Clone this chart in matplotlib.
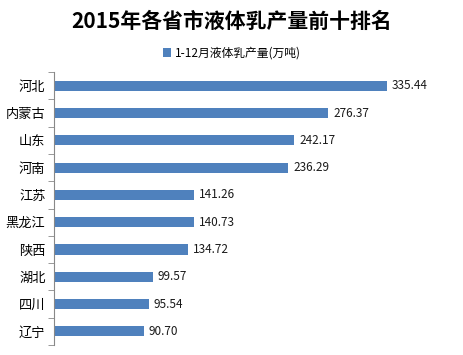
import matplotlib.pyplot as plt
import numpy as np

plt.rcParams['font.family'] = ['Noto Sans CJK SC', 'DejaVu Sans']

provinces = ['河北', '内蒙古', '山东', '河南', '江苏', '黑龙江', '陕西', '湖北', '四川', '辽宁']
output = [335.44, 276.37, 242.17, 236.29, 141.26, 140.73, 134.72, 99.57, 95.54, 90.70]
series_name = '1-12月液体乳产量(万吨)'

fig = plt.figure(figsize=(4.64, 3.55), dpi=100)
ax = fig.add_axes([0.116, 0.028, 0.856, 0.769])

y = np.arange(len(provinces))
bars = ax.barh(y, output, height=0.37, color='#4F81BD', label=series_name)
for yi, v in zip(y, output):
    ax.text(v + 5, yi, '%.2f' % v, va='center', ha='left', fontsize=8.5, color='#1a1a1a')

ax.set_xlim(0, 400)
ax.set_ylim(len(provinces) - 0.5, -0.5)
ax.set_yticks(y)
ax.set_yticklabels(provinces, fontsize=9.5)
ax.set_yticks(np.arange(-0.5, len(provinces)), minor=True)
ax.tick_params(axis='y', which='major', length=0, pad=6)
ax.tick_params(axis='y', which='minor', length=4, color='#888888', direction='out')
ax.set_xticks([])
for s in ['top', 'right', 'bottom']:
    ax.spines[s].set_visible(False)
ax.spines['left'].set_color('#888888')

fig.text(0.5, 0.94, '2015年各省市液体乳产量前十排名', ha='center', va='center',
         fontsize=15, fontweight='bold')
fig.legend(handles=[bars], labels=[series_name], loc='center', bbox_to_anchor=(0.5, 0.85),
           frameon=False, fontsize=8.5, handlelength=0.7, handleheight=0.7, handletextpad=0.3)

fig.savefig('out.png', dpi=100)
